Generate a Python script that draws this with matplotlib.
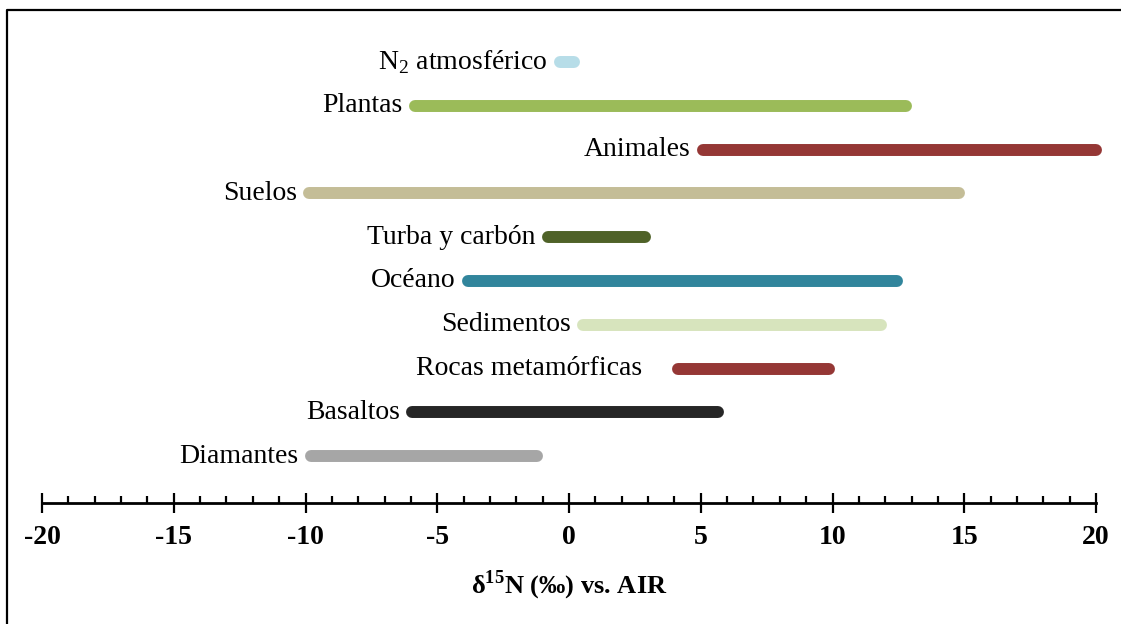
import numpy as np
import matplotlib
matplotlib.use('Agg')
import matplotlib.pyplot as plt
from matplotlib.lines import Line2D
from matplotlib.ticker import MultipleLocator

plt.rcParams['font.family'] = ['Liberation Serif', 'DejaVu Serif']
plt.rcParams['mathtext.fontset'] = 'custom'
plt.rcParams['mathtext.rm'] = 'Liberation Serif'
plt.rcParams['mathtext.bf'] = 'Liberation Serif:bold'
plt.rcParams['axes.unicode_minus'] = False

# ---- datos: rango de d15N por reservorio ----
names = ['N$_2$ atmosférico', 'Plantas', 'Animales', 'Suelos', 'Turba y carbón',
         'Océano', 'Sedimentos', 'Rocas metamórficas', 'Basaltos', 'Diamantes']
lo = [-0.35, -5.85, 5.1, -9.85, -0.8, -3.85, 0.55, 4.15, -5.95, -9.8]
hi = [0.2, 12.8, 20.0, 14.8, 2.9, 12.45, 11.85, 9.85, 5.65, -1.2]
colors = ['#b7dde8', '#9bbb59', '#953735', '#c4bd97', '#4f6228',
          '#31859c', '#d7e4bd', '#953735', '#262626', '#a6a6a6']

fig = plt.figure(figsize=(11.21, 6.24), dpi=100)
ax = fig.add_axes([42 / 1121, 1 - 503 / 624, (1096 - 42) / 1121, (503 - 20) / 624])

for i in range(len(names)):
    ax.plot([lo[i], hi[i]], [i, i], color=colors[i], linewidth=8.6,
            solid_capstyle='round', clip_on=False)
    # la etiqueta de rocas queda algo más separada en el original
    gap = -26 if names[i].startswith('Rocas') else -9
    ax.annotate(names[i], xy=(lo[i], i), xytext=(gap, 0), textcoords='offset points',
                ha='right', va='center', fontsize=20)

ax.set_xlim(-20, 20)
ax.set_ylim(len(names) - 1 + 1.07, -0.96)

for s in ['top', 'right', 'left']:
    ax.spines[s].set_visible(False)
ax.spines['bottom'].set_linewidth(2)
ax.set_yticks([])

ax.xaxis.set_major_locator(MultipleLocator(5))
ax.xaxis.set_minor_locator(MultipleLocator(1))
ax.tick_params(axis='x', which='major', direction='inout', length=15, width=1.6,
               pad=8, labelsize=20)
ax.tick_params(axis='x', which='minor', direction='in', length=5, width=1.6)
for lab in ax.get_xticklabels():
    lab.set_fontweight('bold')

ax.set_xlabel(r'δ$^{\mathbf{15}}$N (‰) vs. AIR', fontsize=19, fontweight='bold', labelpad=14)

# marco exterior (solo lados izquierdo y superior visibles)
fig.add_artist(Line2D([7 / 1121, 7 / 1121, 1.0], [0.0, 1 - 10 / 624, 1 - 10 / 624],
                      transform=fig.transFigure, color='black', linewidth=1.6))

fig.savefig('out.png', dpi=100)
